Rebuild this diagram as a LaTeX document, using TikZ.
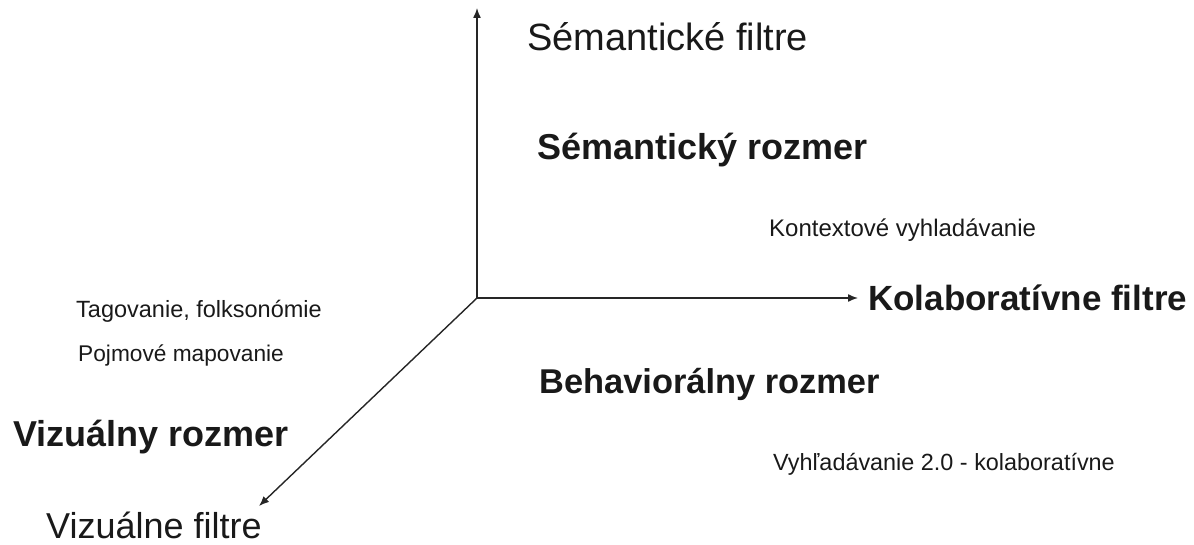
\documentclass[tikz,border=0pt]{standalone}
\usepackage{fontspec}
\setmainfont{Liberation Sans}
\usetikzlibrary{arrows.meta}
\tikzset{
  axis/.style={line width=1.4pt, draw=black!85, -{Latex[length=10pt,width=8pt]}},
  label/.style={anchor=west, inner sep=0pt, text=black!90},
  filtertext/.style={label, font=\fontsize{#1}{#1}\selectfont},
  dimtext/.style={label, font=\fontsize{#1}{#1}\selectfont\bfseries},
  notetext/.style={label, font=\fontsize{#1}{#1}\selectfont},
}
\begin{document}
\begin{tikzpicture}[x=1pt,y=-1pt]
  \useasboundingbox (0,0) rectangle (1194,545);
  % axes
  \coordinate (O) at (477,298);
  \coordinate (up) at (477,8);
  \coordinate (right) at (858,298);
  \coordinate (down) at (259,506);
  \draw[axis] (O) -- (up);
  \draw[axis] (O) -- (right);
  \draw[axis] (O) -- (down);
  % axis ends
  \node[filtertext=38] (semf) at (527,37) {Sémantické filtre};
  \node[dimtext=35] (kolf) at (868,298) {Kolaboratívne filtre};
  \node[filtertext=36] (vizf) at (46,525) {Vizuálne filtre};
  % dimensions
  \node[dimtext=36] (semr) at (537,150) {Sémantický rozmer};
  \node[dimtext=34.4] (behr) at (539,384) {Behaviorálny rozmer};
  \node[dimtext=36] (vizr) at (13,437) {Vizuálny rozmer};
  % notes
  \node[notetext=24] (kont) at (769,230) {Kontextové vyhladávanie};
  \node[notetext=23.5] (tag) at (76,311) {Tagovanie, folksonómie};
  \node[notetext=22.7] (pojm) at (78,355) {Pojmové mapovanie};
  \node[notetext=23.4] (vyhl) at (773,464) {Vyhľadávanie 2.0 - kolaboratívne};
\end{tikzpicture}
\end{document}
